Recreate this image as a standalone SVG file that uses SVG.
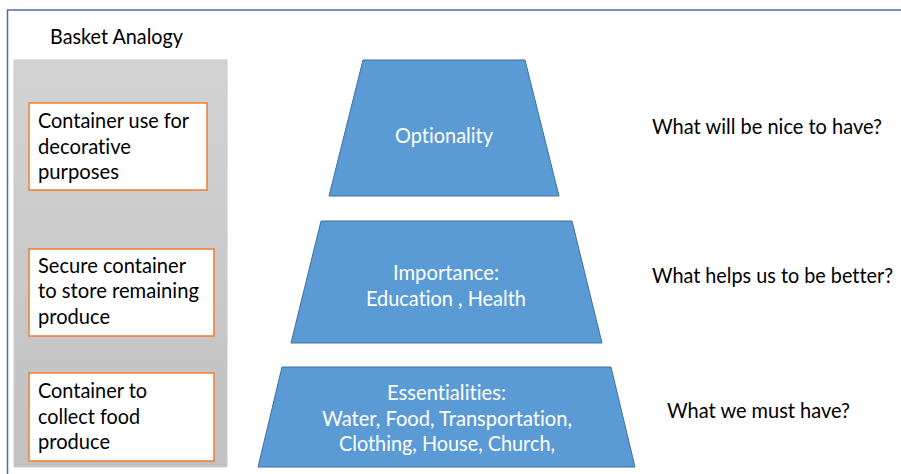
<svg xmlns="http://www.w3.org/2000/svg" width="901" height="474" viewBox="0 0 901 474">
<defs>
<linearGradient id="panelGrad" x1="0" y1="0" x2="0" y2="1">
<stop offset="0" stop-color="#d3d3d3"/>
<stop offset="1" stop-color="#c1c1c1"/>
</linearGradient>
<style>
.t{font-family:Lato,"Open Sans","Liberation Sans",sans-serif;font-size:21px;fill:#000;font-variant-ligatures:none}
.w{font-family:Lato,"Open Sans","Liberation Sans",sans-serif;font-size:21px;fill:#fff;text-anchor:middle;font-variant-ligatures:none}
.box{fill:#fff;stroke:#ed7d31;stroke-width:1.5}
.trap{fill:#5b9bd5;stroke:#41719c;stroke-width:1}
.frame{fill:none;stroke:#4a6ea8;stroke-width:1.5}
</style>
</defs>
<rect width="901" height="474" fill="#fff"/>
<path class="frame" d="M7.5,474 V10 H901"/>
<g id="basket-title">
<text class="t" x="50" y="44" textLength="133" lengthAdjust="spacingAndGlyphs">Basket Analogy</text>
</g>
<g id="basket-panel">
<rect x="14" y="60" width="213" height="407" fill="url(#panelGrad)" stroke="#cacaca" stroke-width="1"/>
</g>
<g id="box-decorative">
<rect class="box" x="29" y="103" width="178" height="87"/>
<text class="t" x="38" y="128" textLength="151" lengthAdjust="spacingAndGlyphs">Container use for</text>
<text class="t" x="38" y="154" textLength="93" lengthAdjust="spacingAndGlyphs">decorative</text>
<text class="t" x="38" y="179" textLength="81" lengthAdjust="spacingAndGlyphs">purposes</text>
</g>
<g id="box-secure">
<rect class="box" x="29" y="249" width="185" height="87"/>
<text class="t" x="38" y="273" textLength="148" lengthAdjust="spacingAndGlyphs">Secure container</text>
<text class="t" x="38" y="298" textLength="161" lengthAdjust="spacingAndGlyphs">to store remaining</text>
<text class="t" x="38" y="324" textLength="72" lengthAdjust="spacingAndGlyphs">produce</text>
</g>
<g id="box-collect">
<rect class="box" x="29" y="373" width="185" height="88"/>
<text class="t" x="38" y="398" textLength="109" lengthAdjust="spacingAndGlyphs">Container to</text>
<text class="t" x="38" y="424" textLength="102" lengthAdjust="spacingAndGlyphs">collect food</text>
<text class="t" x="38" y="449" textLength="72" lengthAdjust="spacingAndGlyphs">produce</text>
</g>
<g id="optionality">
<polygon class="trap" points="363,60 525,60 559,196 329,196"/>
<text class="w" x="444" y="143" textLength="98" lengthAdjust="spacingAndGlyphs">Optionality</text>
</g>
<g id="importance">
<polygon class="trap" points="321,221 572,221 602,343 291,343"/>
<text class="w" x="446" y="280" textLength="106" lengthAdjust="spacingAndGlyphs">Importance:</text>
<text class="w" x="446" y="306" textLength="160" lengthAdjust="spacingAndGlyphs">Education , Health</text>
</g>
<g id="essentialities">
<polygon class="trap" points="282,367 611,367 635,467 258,467"/>
<text class="w" x="446.5" y="400" textLength="119" lengthAdjust="spacingAndGlyphs">Essentialities:</text>
<text class="w" x="447" y="426" textLength="250" lengthAdjust="spacingAndGlyphs">Water, Food, Transportation,</text>
<text class="w" x="447" y="451" textLength="216" lengthAdjust="spacingAndGlyphs">Clothing, House, Church,</text>
</g>
<g id="q-nice">
<text class="t" x="652" y="134" textLength="230" lengthAdjust="spacingAndGlyphs">What will be nice to have?</text>
</g>
<g id="q-better">
<text class="t" x="652" y="283" textLength="241" lengthAdjust="spacingAndGlyphs">What helps us to be better?</text>
</g>
<g id="q-must">
<text class="t" x="667" y="418" textLength="183" lengthAdjust="spacingAndGlyphs">What we must have?</text>
</g>
<g id="connectors"></g>
</svg>
